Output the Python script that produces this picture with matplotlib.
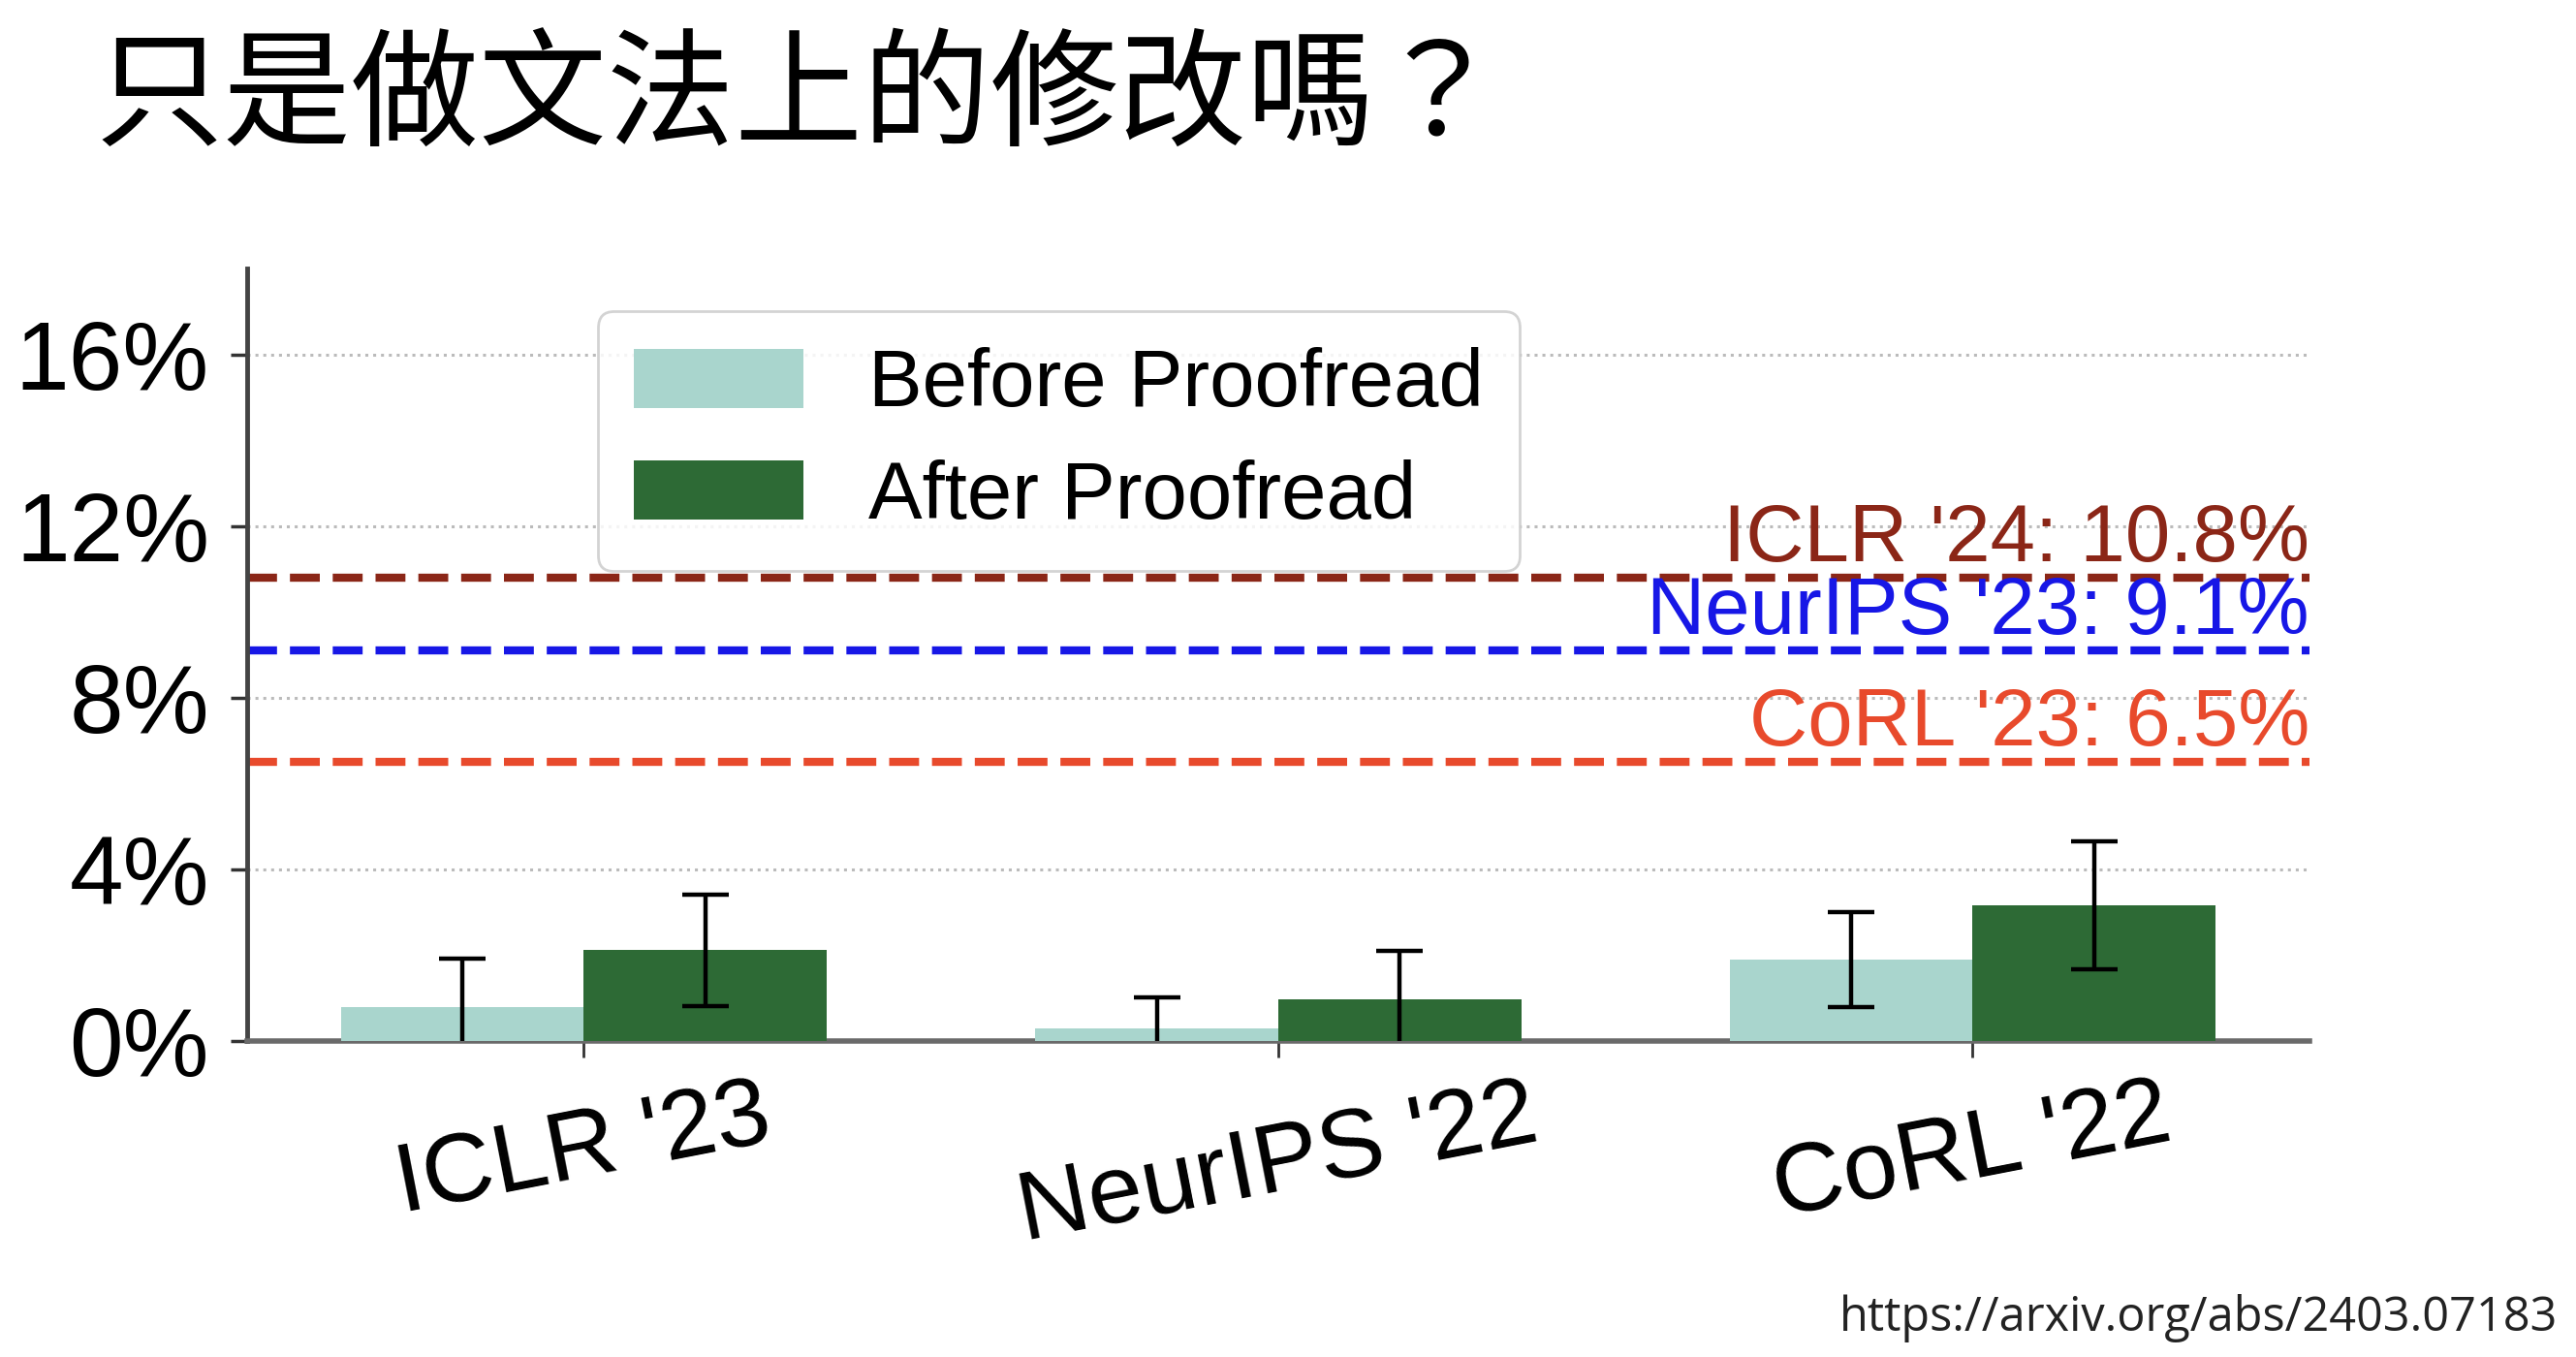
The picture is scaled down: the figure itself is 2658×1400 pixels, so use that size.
import matplotlib
matplotlib.use("Agg")
from matplotlib import pyplot as plt
from matplotlib.ticker import PercentFormatter
import numpy as np

# Data
venues = ["ICLR '23", "NeurIPS '22", "CoRL '22"]
before_vals = [0.78, 0.30, 1.90]
after_vals = [2.12, 0.98, 3.16]
before_err = [1.13, 0.71, 1.10]
after_err = [1.30, 1.13, 1.50]

ref_vals = [10.8, 9.1, 6.5]
ref_labels = ["ICLR '24: 10.8%", "NeurIPS '23: 9.1%", "CoRL '23: 6.5%"]
ref_colors = ["#8b2617", "#1717e6", "#e84a2c"]

title = "只是做文法上的修改嗎？"
source = "https://arxiv.org/abs/2403.07183"

plt.rcParams["font.family"] = ["Liberation Sans", "DejaVu Sans"]

fig = plt.figure(figsize=(26.58, 14), dpi=100)
ax = fig.add_axes([0.0959, 0.2329, 0.8006, 0.5692])

x = np.arange(len(venues))
w = 0.35
err_kw = dict(ecolor="black", elinewidth=3.2, capsize=17, capthick=3.2)
ax.bar(x - w / 2, before_vals, w, yerr=before_err, color="#a9d5cd",
       label="Before Proofread", error_kw=err_kw, zorder=3)
ax.bar(x + w / 2, after_vals, w, yerr=after_err, color="#2d6a35",
       label="After Proofread", error_kw=err_kw, zorder=3)

# Reference rates from other venues
for val, lab, col in zip(ref_vals, ref_labels, ref_colors):
    ax.axhline(val, color=col, linestyle=(0, (3.7, 1.6)), linewidth=6, zorder=2)
    ax.text(1.0, val, lab, transform=ax.get_yaxis_transform(), ha="right",
            va="bottom", color=col, fontsize=60)

ax.set_ylim(0, 18)
ax.set_yticks([0, 4, 8, 12, 16])
ax.yaxis.set_major_formatter(PercentFormatter(decimals=0))
ax.yaxis.grid(True, linestyle=":", linewidth=2.2, color="#bbbbbb", zorder=0)
ax.set_axisbelow(True)

ax.set_xticks(x)
ax.set_xticklabels(venues, rotation=11, ha="center")

for s in ["top", "right"]:
    ax.spines[s].set_visible(False)
ax.spines["left"].set_color("#444444")
ax.spines["left"].set_linewidth(3.5)
ax.spines["bottom"].set_color("#6a6a6a")
ax.spines["bottom"].set_linewidth(4)

ax.tick_params(axis="y", labelsize=72, length=12, width=2.5, pad=16, colors="#333333", labelcolor="black")
ax.tick_params(axis="x", labelsize=73, length=12, width=2, pad=10, colors="#333333", labelcolor="black")

leg = ax.legend(loc="upper left", bbox_to_anchor=(0.17, 0.945), fontsize=60,
                handlelength=2.1, handleheight=0.75, labelspacing=0.45,
                borderpad=0.45, handletextpad=0.8, borderaxespad=0,
                framealpha=0.85)
leg.get_frame().set_linewidth(2)

fig.text(0.037, 0.975, title, ha="left", va="top", fontsize=95,
         family=["Noto Sans CJK TC", "DejaVu Sans"], fontweight="light")
fig.text(0.993, 0.019, source, ha="right", va="baseline", fontsize=35,
         family=["Open Sans", "DejaVu Sans"], color="#222222")

plt.savefig("out.png", dpi=100)
